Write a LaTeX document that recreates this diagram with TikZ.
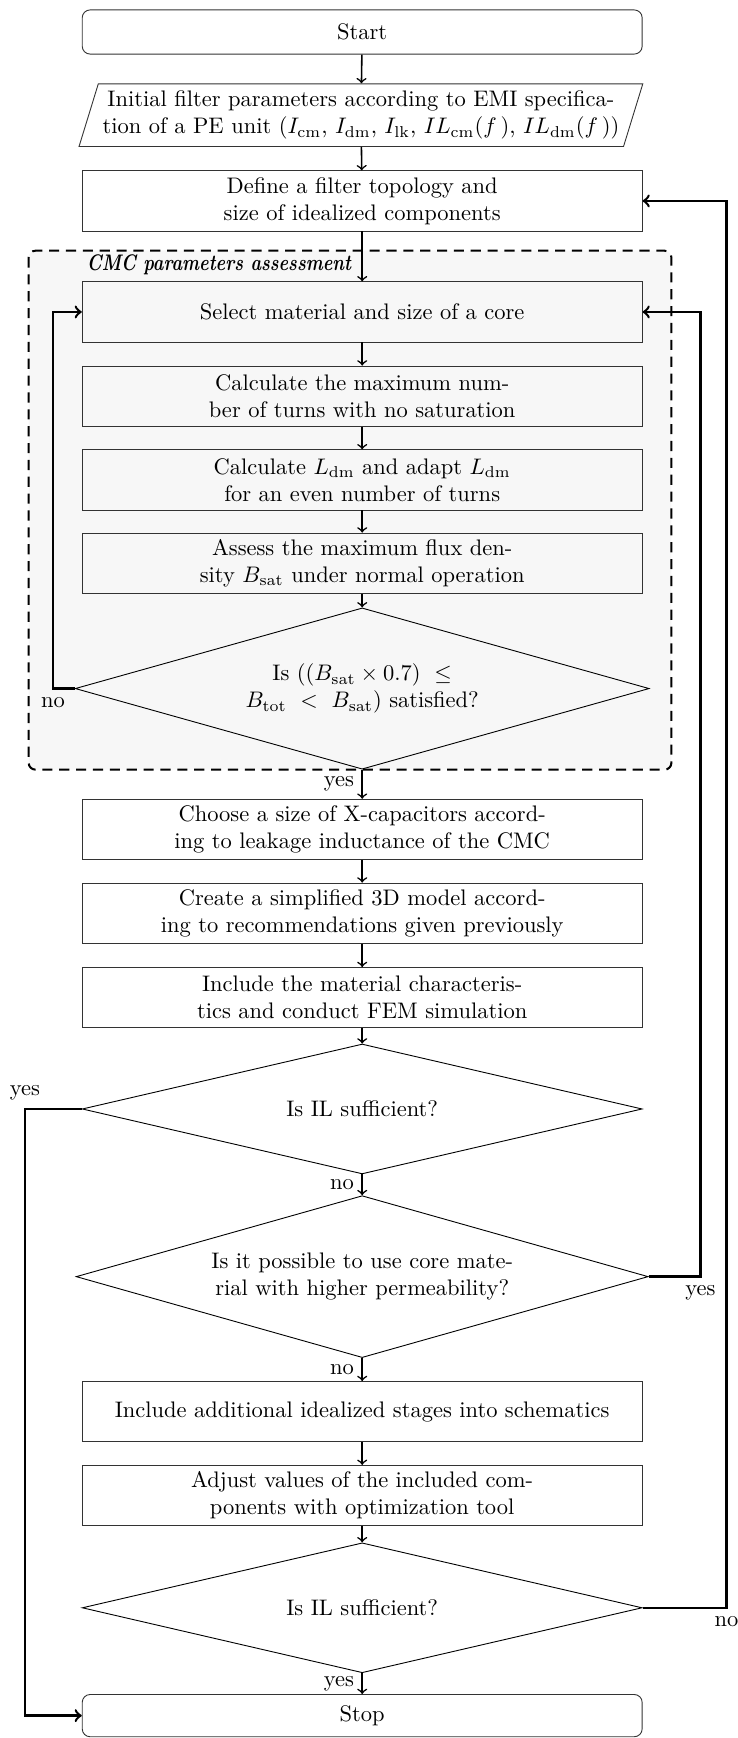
\documentclass[tikz,border=0pt]{standalone}
\usetikzlibrary{shapes.geometric,calc,backgrounds}

\tikzset{
    terminal/.style={draw=black!80, rounded corners=3.5pt, minimum width=8.75cm, minimum height=0.69cm, align=center},
    process/.style={draw=black!80, minimum width=8.75cm, minimum height=0.94cm, inner sep=2pt, align=center},
    io/.style={draw=black!80, trapezium, trapezium left angle=70, trapezium right angle=110, trapezium stretches body, minimum width=8.81cm, minimum height=0.98cm, inner sep=1pt, align=center},
    decision/.style={draw, diamond, aspect=3, inner sep=1pt, minimum width=8.75cm, minimum height=2.03cm, align=center},
    flow/.style={->, line width=0.7pt},
    loop/.style={->, line width=1.1pt},
    cmcframe/.style={draw, line width=0.9pt, dash pattern=on 4.5pt off 3pt, fill=black!3, rounded corners=3pt}
}

\begin{document}
\begin{tikzpicture}
    \useasboundingbox (0,0) rectangle (11.52,-27.16);

    \node[terminal] (start) at (5.66,-0.5) {Start};
    \node[io] (init) at (5.64,-1.8) {Initial filter parameters according to EMI specifica-\\tion of a PE unit ($I_{\mathrm{cm}}$, $I_{\mathrm{dm}}$, $I_{\mathrm{lk}}$, $IL_{\mathrm{cm}}(f\,)$, $IL_{\mathrm{dm}}(f\,)$)};
    \node[process] (define) at (5.66,-3.14) {Define a filter topology and\\size of idealized components};

    \node[process] (sel) at (5.66,-4.875) {Select material and size of a core};
    \node[process] (turns) at (5.66,-6.19) {Calculate the maximum num-\\ber of turns with no saturation};
    \node[process] (ldm) at (5.66,-7.5) {Calculate $L_{\mathrm{dm}}$ and adapt $L_{\mathrm{dm}}$\\for an even number of turns};
    \node[process] (flux) at (5.66,-8.8) {Assess the maximum flux den-\\sity $B_{\mathrm{sat}}$ under normal operation};
    \node[decision, minimum width=8.97cm, minimum height=2.52cm] (sat) at (5.66,-10.76) {Is $((B_{\mathrm{sat}}\times 0.7)\ \leq$\\$B_{\mathrm{tot}}\ <\ B_{\mathrm{sat}})$ satisfied?};

    \node[process] (xcap) at (5.66,-12.96) {Choose a size of X-capacitors accord-\\ing to leakage inductance of the CMC};
    \node[process] (model) at (5.66,-14.27) {Create a simplified 3D model accord-\\ing to recommendations given previously};
    \node[process] (fem) at (5.66,-15.59) {Include the material characteris-\\tics and conduct FEM simulation};
    \node[decision] (ilA) at (5.66,-17.33) {Is IL sufficient?};
    \node[decision, minimum width=8.94cm, minimum height=2.53cm] (perm) at (5.66,-19.95) {Is it possible to use core mate-\\rial with higher permeability?};
    \node[process] (stages) at (5.66,-22.06) {Include additional idealized stages into schematics};
    \node[process] (optim) at (5.66,-23.37) {Adjust values of the included com-\\ponents with optimization tool};
    \node[decision] (ilB) at (5.66,-25.125) {Is IL sufficient?};
    \node[terminal, minimum height=0.66cm] (stop) at (5.66,-26.81) {Stop};

    \begin{scope}[on background layer]
        \draw[cmcframe] ($(sel.north west)+(-0.83,0.48)$) rectangle ($(sat.south -| sel.east)+(0.45,0)$);
    \end{scope}
    \node[font=\bfseries\itshape, anchor=east, inner sep=0pt, xscale=0.8, transform shape] (cmc) at (5.49,-4.14) {CMC parameters assessment};

    \draw[flow] (start) -- (init);
    \draw[flow] (init) -- (define);
    \draw[flow] (define) -- (sel);
    \draw[flow] (sel) -- (turns);
    \draw[flow] (turns) -- (ldm);
    \draw[flow] (ldm) -- (flux);
    \draw[flow] (flux) -- (sat);
    \draw[flow] (sat) -- node[left] {yes} (xcap);
    \draw[flow] (xcap) -- (model);
    \draw[flow] (model) -- (fem);
    \draw[flow] (fem) -- (ilA);
    \draw[flow] (ilA) -- node[left] {no} (perm);
    \draw[flow] (perm) -- node[left] {no} (stages);
    \draw[flow] (stages) -- (optim);
    \draw[flow] (optim) -- (ilB);
    \draw[flow] (ilB) -- node[left] {yes} (stop);

    \draw[loop] (sat.west) -- ++(-0.34,0) node[below] {no} |- (sel.west);
    \draw[loop] (ilA.west) -- ++(-0.89,0) node[above] {yes} |- (stop.west);
    \draw[loop] (perm.east) -- ++(0.81,0) node[below] {yes} |- (sel.east);
    \draw[loop] (ilB.east) -- ++(1.31,0) node[below] {no} |- (define.east);

\end{tikzpicture}
\end{document}
